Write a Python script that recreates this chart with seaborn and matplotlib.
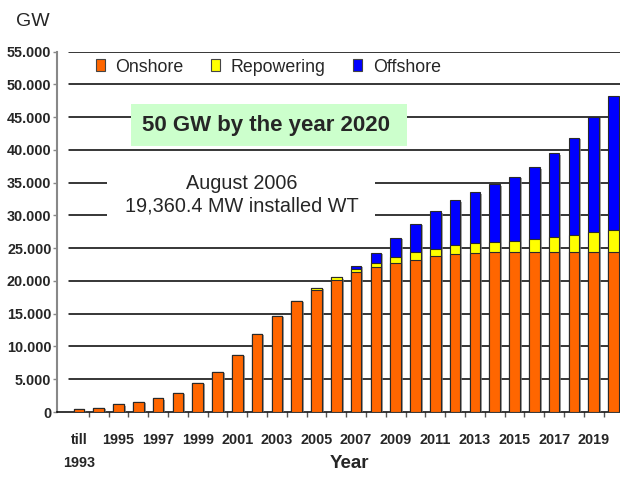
import matplotlib
matplotlib.use("Agg")
import numpy as np
import pandas as pd
import matplotlib.pyplot as plt
import matplotlib.patheffects as pe
from matplotlib.patches import Patch, Rectangle
from matplotlib.ticker import FuncFormatter
import seaborn as sns

# Installed wind power capacity in Germany (MW), cumulative per year
years = ["till\n1993"] + [str(y) for y in range(1994, 2021)]
onshore = [410, 650, 1180, 1600, 2080, 2920, 4440, 6100, 8750, 11960,
           14700, 16870, 18620, 20140, 21300, 22180, 22740, 23240, 23760, 24060,
           24260, 24370, 24370, 24370, 24370, 24370, 24370, 24370]
repowering = [0] * 11 + [120, 300, 420, 500, 510, 960, 1130, 1170, 1370, 1480,
                         1620, 1780, 1980, 2330, 2690, 3050, 3450]
offshore = [0] * 14 + [500, 1620, 2850, 4320, 5690, 6870, 7780, 8750, 9760,
                       10990, 12780, 14800, 17640, 20450]
series_names = ["Onshore", "Repowering", "Offshore"]
y_ticks = list(range(0, 55001, 5000))

ORANGE, YELLOW, BLUE = "#FF6600", "#FFFF00", "#0000FF"
EDGE = "#2a2a2a"

sns.set_style("white")
plt.rcParams["font.family"] = ["Liberation Sans", "DejaVu Sans"]

W, H = 620, 479
L, R, B, T = 57, 620, 412, 51.7
fig = plt.figure(figsize=(W / 100, H / 100), dpi=100)
ax = fig.add_axes([L / W, 1 - B / H, (R - L) / W, (B - T) / H])


def frac(x, y):
    """Pixel position -> axes fraction."""
    return ((x - L) / (R - L), (B - y) / (B - T))


df = pd.DataFrame({"year": years, "onshore": onshore,
                   "repowering": repowering, "offshore": offshore})
df["with_repowering"] = df["onshore"] + df["repowering"]
df["total"] = df["with_repowering"] + df["offshore"]

# stacked bars: draw the full stack first, then overlay the lower parts
for col, color in [("total", BLUE), ("with_repowering", YELLOW), ("onshore", ORANGE)]:
    n_before = len(ax.patches)
    sns.barplot(data=df, x="year", y=col, color=color, saturation=1, width=0.53,
                edgecolor=EDGE, linewidth=0.8, errorbar=None, ax=ax, zorder=3)
    if col == "total":
        for bar in ax.patches[n_before:]:
            bar.set_path_effects([
                pe.SimplePatchShadow(offset=(1.5, -1.0), shadow_rgbFace="#808080", alpha=0.7),
                pe.Normal()])

ax.set_xlim(-1.106, 27.33)
ax.set_ylim(0, 55000)
ax.set_xlabel("")
ax.set_ylabel("")

# horizontal rules
for v in y_ticks[1:]:
    ax.axhline(v, xmin=(69 - L) / (R - L), xmax=1, color="black", lw=1.1, zorder=1)

# spines
for s in ("top", "right"):
    ax.spines[s].set_visible(False)
ax.spines["left"].set_color("#888888")
ax.spines["left"].set_linewidth(1.5)
ax.spines["bottom"].set_color("black")
ax.spines["bottom"].set_linewidth(1.1)

# y axis
ax.set_yticks(y_ticks)
ax.yaxis.set_major_formatter(FuncFormatter(lambda v, p: f"{v:,.0f}".replace(",", ".")))
ax.tick_params(axis="y", which="major", direction="out", length=3, width=1,
               color="#888888", pad=1, labelsize=10.4, left=True)

# x axis: labels under every other bar, tick marks between bars
ax.set_xticks(range(len(years)))
ax.set_xticklabels([lab if i % 2 == 0 else "" for i, lab in enumerate(years)])
ax.set_xticks(np.arange(0.5, len(years) - 1, 1.0), minor=True)
ax.tick_params(axis="x", which="major", length=0, pad=15, labelsize=10.4)
ax.tick_params(axis="x", which="minor", direction="out", length=3.6, width=1,
               color="#555555", bottom=True)
for lab in ax.get_xticklabels() + ax.get_yticklabels():
    lab.set_fontweight("bold")
for lab in ax.get_xticklabels():
    lab.set_linespacing(1.85)

# target box
gx, gy = frac(131, 146)
ax.add_patch(Rectangle((gx, gy), (407 - 131) / (R - L), (146 - 104) / (B - T),
                       transform=ax.transAxes, facecolor="#CCFFCC",
                       edgecolor="none", zorder=2, clip_on=False))
ax.text(*frac(266, 125), "50 GW by the year 2020", transform=ax.transAxes,
        ha="center", va="center", fontsize=16, fontweight="bold", zorder=4)

# status note
wx, wy = frac(107, 232)
ax.add_patch(Rectangle((wx, wy), (375 - 107) / (R - L), (232 - 163) / (B - T),
                       transform=ax.transAxes, facecolor="white",
                       edgecolor="none", zorder=2, clip_on=False))
ax.text(*frac(242, 195), "August 2006\n19,360.4 MW installed WT",
        transform=ax.transAxes, ha="center", va="center", fontsize=14.3,
        linespacing=1.25, zorder=4)

# legend
handles = [Patch(facecolor=c, edgecolor="#444444", linewidth=0.8)
           for c in (ORANGE, YELLOW, BLUE)]
ax.legend(handles, series_names, loc="center left", bbox_to_anchor=frac(96, 67),
          ncol=3, frameon=False, fontsize=12.8, handlelength=0.5, handleheight=0.67,
          handletextpad=0.6, columnspacing=1.55, borderpad=0, borderaxespad=0)

fig.text(33 / W, 1 - 21 / H, "GW", ha="center", va="center", fontsize=14)
fig.text(349 / W, 1 - 464 / H, "Year", ha="center", va="center",
         fontsize=13.5, fontweight="bold")

fig.savefig("out.png", dpi=100)
